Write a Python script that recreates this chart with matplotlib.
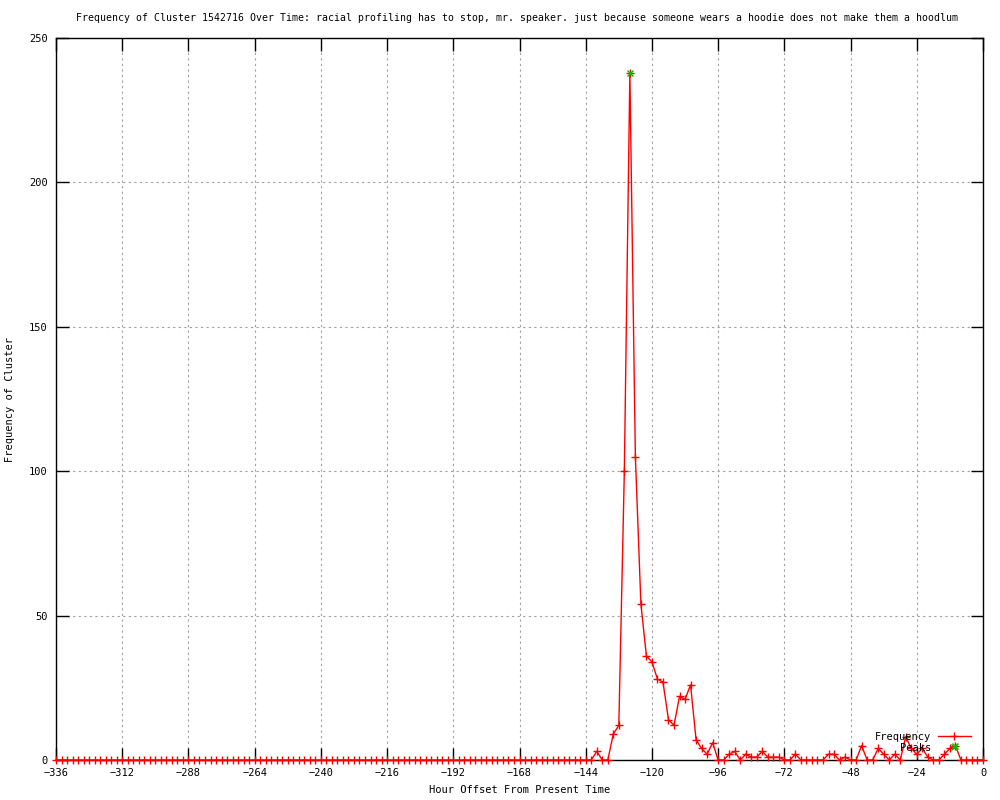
import numpy as np
import matplotlib
matplotlib.use("Agg")
import matplotlib.pyplot as plt

# hourly offsets (2 h bins) and counts
hours = np.arange(-336, 1, 2)
counts = np.zeros(len(hours), dtype=int)
nonzero = {
    -140: 3, -134: 9, -132: 12, -130: 100, -128: 238, -126: 105, -124: 54,
    -122: 36, -120: 34, -118: 28, -116: 27, -114: 14, -112: 12, -110: 22,
    -108: 21, -106: 26, -104: 7, -102: 4, -100: 2, -98: 6,
    -92: 2, -90: 3, -86: 2, -84: 1, -82: 1, -80: 3, -78: 1, -76: 1, -74: 1,
    -68: 2, -56: 2, -54: 2, -50: 1, -44: 5, -38: 4, -36: 2, -32: 2,
    -28: 8, -26: 4, -24: 2, -22: 4, -20: 1, -14: 2, -12: 4, -10: 5,
}
for h, c in nonzero.items():
    counts[hours == h] = c

peak_hours = [-128, -10]
peak_counts = [238, 5]

title = ("Frequency of Cluster 1542716 Over Time: racial profiling has to stop, mr. speaker. "
         "just because someone wears a hoodie does not make them a hoodlum")

plt.rcParams["font.family"] = ["DejaVu Sans Mono", "DejaVu Sans"]
fig = plt.figure(figsize=(10, 8), dpi=100)
ax = fig.add_axes([0.056, 0.05, 0.927, 0.9025])

ax.plot(hours, counts, color="red", lw=1.0, marker="+", ms=5.5, mew=1.0,
        clip_on=False, zorder=3, label="Frequency")
ax.plot(peak_hours, peak_counts, ls="none", marker="x", ms=5, mew=1.0,
        color="#00c000", clip_on=False, zorder=4, label="Peaks")

ax.set_xlim(-336, 0)
ax.set_ylim(0, 250)
ax.set_xticks(np.arange(-336, 1, 24))
ax.set_yticks(np.arange(0, 251, 50))
ax.grid(True, color="#a0a0a0", ls=(0, (2, 3)), lw=0.8)
ax.tick_params(direction="in", length=9, width=1, top=True, right=True,
               labelsize=7.5, pad=6)
for sp in ax.spines.values():
    sp.set_linewidth(1.0)

ax.set_xlabel("Hour Offset From Present Time", fontsize=7.5, labelpad=5)
ax.set_ylabel("Frequency of Cluster", fontsize=7.5, labelpad=10)
fig.text(0.517, 0.977, title, ha="center", va="center", fontsize=7.1)

leg = ax.legend(loc="lower right", bbox_to_anchor=(0.995, 0.0), frameon=False,
                fontsize=7.5, markerfirst=False, handlelength=3.2,
                labelspacing=0.1, borderaxespad=0.3, handletextpad=0.6)
for t in leg.get_texts():
    t.set_ha("right")

fig.savefig("out.png", dpi=100)
